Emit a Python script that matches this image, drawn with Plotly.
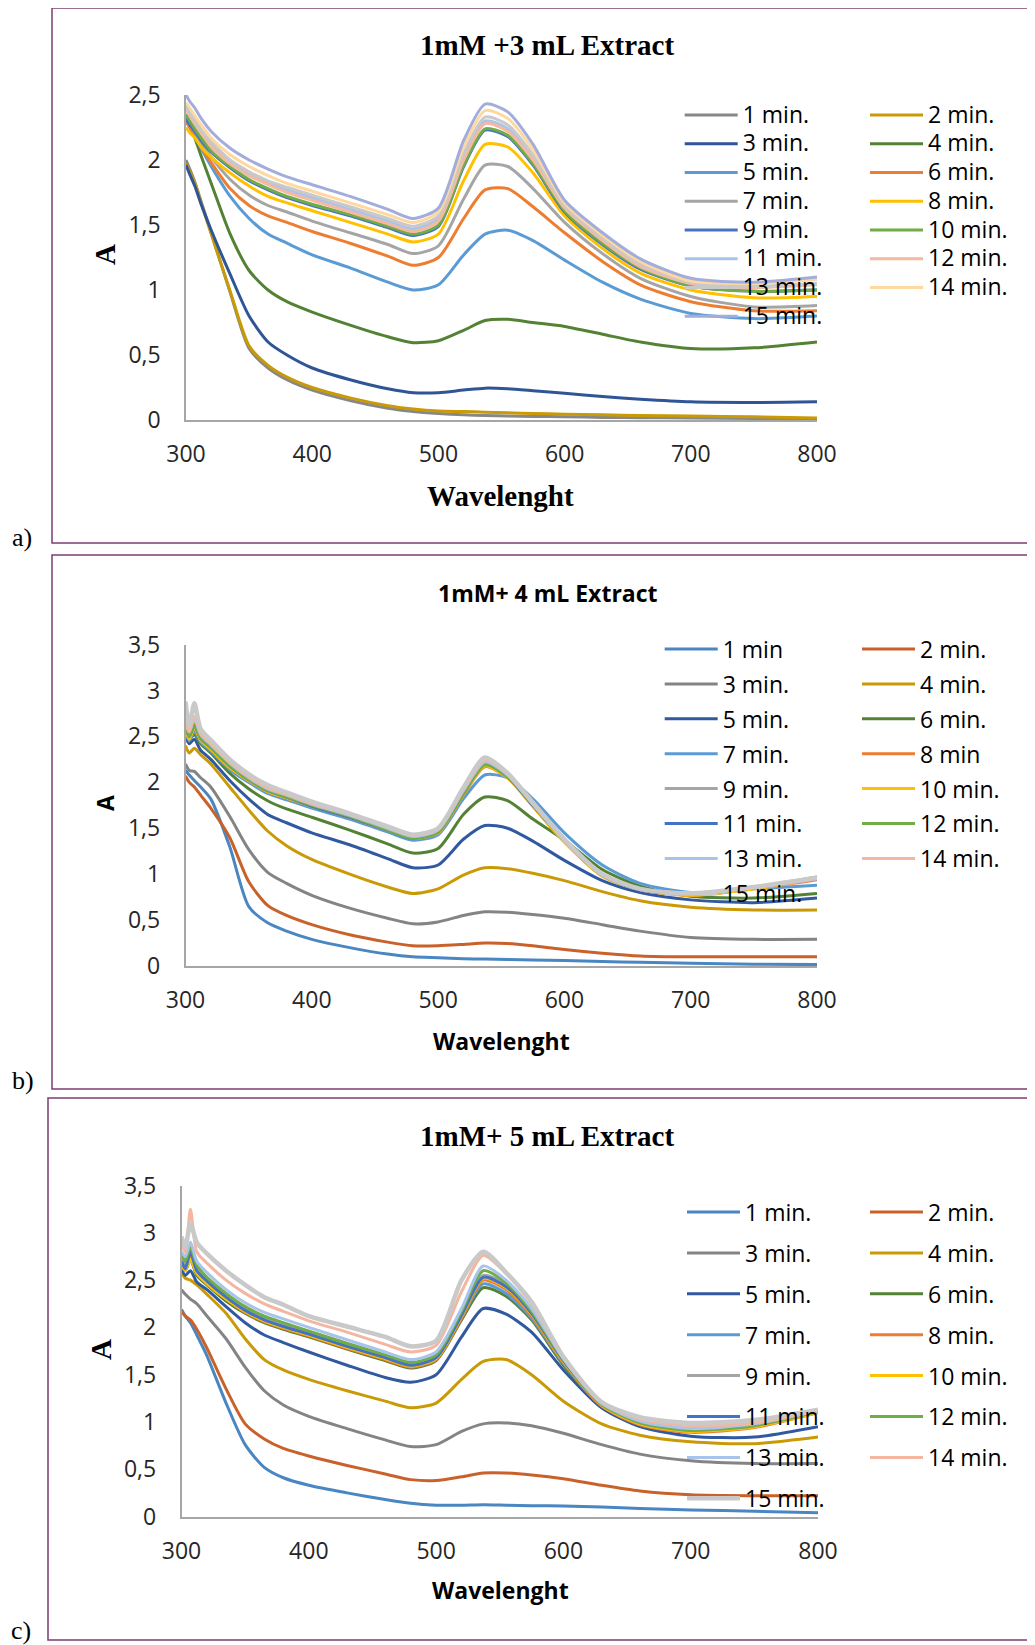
import plotly.graph_objects as go

# ---------------- data ----------------
W = [300, 303, 307, 312, 320, 335, 350, 365, 380, 400, 430, 460, 480, 500,
     520, 537, 555, 575, 600, 630, 660, 700, 750, 800]

# panel a : 1mM + 3 mL extract
a01 = [2.0, 1.93, 1.83, 1.68, 1.44, 0.98, 0.55, 0.4, 0.31, 0.23, 0.15, 0.09, 0.065, 0.05, 0.04, 0.035, 0.03, 0.027, 0.025, 0.02, 0.018, 0.015, 0.012, 0.01]
a02 = [1.97, 1.91, 1.82, 1.67, 1.43, 0.99, 0.57, 0.42, 0.33, 0.25, 0.17, 0.11, 0.085, 0.07, 0.065, 0.06, 0.055, 0.05, 0.045, 0.04, 0.035, 0.03, 0.025, 0.015]
a03 = [1.96, 1.89, 1.8, 1.66, 1.46, 1.12, 0.8, 0.6, 0.5, 0.4, 0.31, 0.24, 0.21, 0.21, 0.23, 0.245, 0.24, 0.225, 0.205, 0.18, 0.16, 0.14, 0.135, 0.14]
a04 = [2.35, 2.27, 2.17, 2.03, 1.82, 1.43, 1.15, 1.0, 0.91, 0.83, 0.73, 0.64, 0.595, 0.61, 0.69, 0.765, 0.775, 0.75, 0.72, 0.66, 0.6, 0.55, 0.555, 0.6]
a05 = [2.3, 2.25, 2.18, 2.09, 1.95, 1.72, 1.55, 1.43, 1.36, 1.27, 1.17, 1.06, 1.0, 1.04, 1.27, 1.43, 1.46, 1.38, 1.23, 1.06, 0.93, 0.82, 0.78, 0.8]
a06 = [2.3, 2.25, 2.19, 2.1, 1.98, 1.78, 1.65, 1.57, 1.52, 1.45, 1.36, 1.26, 1.19, 1.25, 1.55, 1.77, 1.78, 1.64, 1.44, 1.22, 1.04, 0.91, 0.84, 0.84]
a07 = [2.33, 2.28, 2.22, 2.13, 2.02, 1.85, 1.73, 1.65, 1.6, 1.53, 1.44, 1.35, 1.28, 1.34, 1.7, 1.96, 1.95, 1.78, 1.52, 1.28, 1.09, 0.95, 0.87, 0.88]
a08 = [2.25, 2.21, 2.17, 2.1, 2.02, 1.9, 1.8, 1.72, 1.67, 1.61, 1.52, 1.43, 1.37, 1.43, 1.84, 2.12, 2.1, 1.9, 1.57, 1.32, 1.13, 1.0, 0.94, 0.95]
a09 = [2.32, 2.27, 2.22, 2.15, 2.06, 1.94, 1.84, 1.77, 1.71, 1.65, 1.57, 1.48, 1.42, 1.49, 1.95, 2.23, 2.18, 1.96, 1.6, 1.35, 1.16, 1.03, 0.99, 1.0]
a10 = [2.35, 2.3, 2.24, 2.17, 2.07, 1.95, 1.85, 1.78, 1.72, 1.66, 1.58, 1.49, 1.43, 1.5, 1.96, 2.24, 2.19, 1.97, 1.61, 1.36, 1.17, 1.03, 0.99, 1.0]
a11 = [2.42, 2.37, 2.31, 2.23, 2.12, 1.99, 1.9, 1.83, 1.77, 1.71, 1.62, 1.53, 1.47, 1.55, 2.02, 2.3, 2.24, 2.01, 1.64, 1.39, 1.19, 1.05, 1.02, 1.05]
a12 = [2.38, 2.34, 2.28, 2.21, 2.1, 1.97, 1.88, 1.81, 1.75, 1.69, 1.6, 1.51, 1.45, 1.53, 2.0, 2.28, 2.22, 2.0, 1.63, 1.38, 1.18, 1.05, 1.02, 1.04]
a13 = [2.4, 2.36, 2.3, 2.23, 2.14, 2.0, 1.91, 1.84, 1.79, 1.73, 1.64, 1.55, 1.49, 1.57, 2.05, 2.33, 2.27, 2.04, 1.65, 1.4, 1.2, 1.06, 1.03, 1.05]
a14 = [2.44, 2.4, 2.34, 2.27, 2.17, 2.04, 1.95, 1.88, 1.82, 1.76, 1.67, 1.58, 1.52, 1.6, 2.1, 2.38, 2.32, 2.08, 1.67, 1.42, 1.22, 1.07, 1.05, 1.08]
a15 = [2.5, 2.45, 2.4, 2.32, 2.22, 2.09, 2.0, 1.93, 1.87, 1.81, 1.72, 1.62, 1.55, 1.63, 2.15, 2.43, 2.37, 2.12, 1.69, 1.44, 1.24, 1.09, 1.06, 1.1]

# panel b : 1mM + 4 mL extract
b01 = [2.13, 2.08, 2.02, 1.95, 1.82, 1.3, 0.65, 0.47, 0.38, 0.29, 0.2, 0.13, 0.1, 0.09, 0.08, 0.075, 0.07, 0.065, 0.06, 0.05, 0.04, 0.03, 0.02, 0.015]
b02 = [2.07, 2.0, 1.95, 1.86, 1.72, 1.4, 0.92, 0.66, 0.55, 0.45, 0.34, 0.26, 0.22, 0.22, 0.235, 0.25, 0.245, 0.22, 0.18, 0.14, 0.11, 0.1, 0.1, 0.1]
b03 = [2.2, 2.13, 2.12, 2.05, 1.95, 1.63, 1.27, 1.02, 0.9, 0.77, 0.63, 0.52, 0.46, 0.48, 0.55, 0.59, 0.585, 0.56, 0.52, 0.45, 0.38, 0.31, 0.29, 0.29]
b04 = [2.4, 2.32, 2.37, 2.3, 2.2, 1.95, 1.7, 1.47, 1.31, 1.16, 1.0, 0.86, 0.79, 0.84, 0.99, 1.07, 1.06, 1.01, 0.93, 0.81, 0.71, 0.64, 0.61, 0.61]
b05 = [2.5, 2.42, 2.47, 2.35, 2.25, 2.02, 1.82, 1.65, 1.56, 1.45, 1.32, 1.17, 1.07, 1.1, 1.38, 1.53, 1.5, 1.36, 1.15, 0.93, 0.8, 0.72, 0.69, 0.74]
b06 = [2.55, 2.47, 2.52, 2.42, 2.32, 2.1, 1.93, 1.8, 1.71, 1.62, 1.48, 1.33, 1.23, 1.28, 1.65, 1.84, 1.8, 1.6, 1.37, 1.05, 0.87, 0.76, 0.74, 0.79]
b07 = [2.55, 2.45, 2.56, 2.44, 2.34, 2.14, 2.0, 1.88, 1.81, 1.72, 1.6, 1.46, 1.37, 1.43, 1.82, 2.08, 2.05, 1.82, 1.45, 1.1, 0.9, 0.8, 0.84, 0.88]
b08 = [2.58, 2.47, 2.6, 2.46, 2.36, 2.16, 2.02, 1.9, 1.83, 1.74, 1.62, 1.48, 1.39, 1.45, 1.86, 2.17, 2.05, 1.74, 1.35, 0.98, 0.83, 0.77, 0.84, 0.94]
b09 = [2.6, 2.5, 2.64, 2.48, 2.38, 2.18, 2.03, 1.91, 1.84, 1.75, 1.63, 1.49, 1.4, 1.47, 1.9, 2.22, 2.07, 1.75, 1.36, 0.98, 0.83, 0.78, 0.85, 0.95]
b10 = [2.57, 2.47, 2.6, 2.46, 2.36, 2.16, 2.02, 1.9, 1.83, 1.74, 1.62, 1.48, 1.39, 1.45, 1.87, 2.18, 2.05, 1.74, 1.35, 0.98, 0.83, 0.77, 0.84, 0.95]
b11 = [2.6, 2.5, 2.62, 2.48, 2.38, 2.18, 2.03, 1.91, 1.84, 1.74, 1.62, 1.48, 1.39, 1.46, 1.88, 2.2, 2.06, 1.75, 1.37, 0.99, 0.83, 0.78, 0.85, 0.95]
b12 = [2.6, 2.5, 2.62, 2.48, 2.38, 2.18, 2.03, 1.91, 1.84, 1.75, 1.63, 1.48, 1.39, 1.46, 1.88, 2.19, 2.06, 1.76, 1.37, 0.99, 0.84, 0.79, 0.86, 0.97]
b13 = [2.65, 2.55, 2.7, 2.52, 2.41, 2.21, 2.05, 1.93, 1.86, 1.76, 1.64, 1.5, 1.41, 1.48, 1.91, 2.22, 2.08, 1.76, 1.37, 0.99, 0.84, 0.79, 0.86, 0.96]
b14 = [2.65, 2.55, 2.72, 2.53, 2.42, 2.22, 2.06, 1.94, 1.87, 1.77, 1.65, 1.51, 1.42, 1.49, 1.92, 2.24, 2.09, 1.77, 1.37, 0.99, 0.84, 0.79, 0.85, 0.95]
b15 = [2.88, 2.62, 2.86, 2.58, 2.46, 2.25, 2.09, 1.97, 1.89, 1.79, 1.66, 1.52, 1.43, 1.5, 1.94, 2.27, 2.1, 1.78, 1.38, 1.0, 0.84, 0.79, 0.86, 0.96]

# panel c : 1mM + 5 mL extract
c01 = [2.19, 2.12, 2.05, 1.92, 1.7, 1.2, 0.76, 0.52, 0.41, 0.33, 0.25, 0.18, 0.14, 0.12, 0.12, 0.125, 0.12, 0.115, 0.11, 0.1, 0.085, 0.07, 0.055, 0.04]
c02 = [2.17, 2.12, 2.08, 1.98, 1.78, 1.35, 0.98, 0.82, 0.72, 0.64, 0.54, 0.45, 0.39, 0.38, 0.42, 0.46, 0.46, 0.44, 0.4, 0.33, 0.27, 0.23, 0.22, 0.22]
c03 = [2.4, 2.35, 2.3, 2.25, 2.12, 1.88, 1.58, 1.33, 1.18, 1.06, 0.93, 0.81, 0.74, 0.76, 0.9, 0.98, 0.99, 0.96, 0.88, 0.76, 0.66, 0.59, 0.56, 0.56]
c04 = [2.58, 2.52, 2.5, 2.45, 2.35, 2.15, 1.88, 1.66, 1.55, 1.45, 1.33, 1.22, 1.15, 1.2, 1.45, 1.64, 1.66, 1.5, 1.22, 0.98, 0.86, 0.79, 0.77, 0.84]
c05 = [2.62, 2.55, 2.6, 2.48, 2.4, 2.22, 2.05, 1.92, 1.84, 1.74, 1.6, 1.47, 1.42, 1.5, 1.9, 2.2, 2.14, 1.95, 1.55, 1.15, 0.95, 0.85, 0.84, 0.95]
c06 = [2.65, 2.6, 2.72, 2.55, 2.45, 2.28, 2.15, 2.05, 1.98, 1.9, 1.77, 1.65, 1.57, 1.65, 2.08, 2.42, 2.33, 2.08, 1.6, 1.17, 0.98, 0.9, 0.95, 1.1]
c07 = [2.72, 2.65, 2.78, 2.6, 2.5, 2.32, 2.18, 2.08, 2.01, 1.93, 1.8, 1.67, 1.59, 1.67, 2.1, 2.46, 2.36, 2.1, 1.62, 1.17, 0.99, 0.91, 0.96, 1.1]
c08 = [2.68, 2.62, 2.75, 2.58, 2.47, 2.3, 2.16, 2.06, 1.99, 1.91, 1.78, 1.66, 1.58, 1.66, 2.1, 2.5, 2.4, 2.12, 1.63, 1.17, 0.97, 0.89, 0.94, 1.1]
c09 = [2.75, 2.68, 2.85, 2.65, 2.52, 2.35, 2.21, 2.11, 2.04, 1.96, 1.83, 1.7, 1.62, 1.7, 2.15, 2.55, 2.45, 2.16, 1.66, 1.19, 1.0, 0.93, 0.97, 1.11]
c10 = [2.66, 2.6, 2.72, 2.57, 2.46, 2.3, 2.17, 2.07, 2.0, 1.92, 1.79, 1.67, 1.59, 1.67, 2.12, 2.52, 2.42, 2.14, 1.64, 1.18, 0.98, 0.9, 0.95, 1.1]
c11 = [2.7, 2.62, 2.8, 2.6, 2.49, 2.32, 2.18, 2.08, 2.01, 1.93, 1.8, 1.68, 1.6, 1.68, 2.13, 2.53, 2.43, 2.15, 1.65, 1.19, 1.0, 0.92, 0.97, 1.12]
c12 = [2.78, 2.7, 2.85, 2.66, 2.53, 2.36, 2.22, 2.12, 2.05, 1.96, 1.83, 1.71, 1.63, 1.71, 2.17, 2.6, 2.47, 2.17, 1.66, 1.19, 0.99, 0.91, 0.96, 1.11]
c13 = [2.8, 2.75, 2.9, 2.7, 2.58, 2.4, 2.26, 2.16, 2.09, 2.0, 1.87, 1.74, 1.66, 1.74, 2.2, 2.65, 2.5, 2.2, 1.67, 1.2, 1.01, 0.93, 0.98, 1.12]
c14 = [2.88, 2.8, 3.25, 2.8, 2.68, 2.5, 2.36, 2.25, 2.17, 2.07, 1.95, 1.82, 1.74, 1.81, 2.38, 2.76, 2.57, 2.25, 1.68, 1.21, 1.03, 0.96, 0.99, 1.12]
c15 = [2.96, 2.85, 3.1, 2.9, 2.78, 2.6, 2.45, 2.32, 2.24, 2.12, 2.01, 1.9, 1.8, 1.86, 2.5, 2.8, 2.58, 2.27, 1.69, 1.21, 1.05, 0.99, 1.02, 1.13]

LABELS_A = ["1 min.", "2 min.", "3 min.", "4 min.", "5 min.", "6 min.", "7 min.", "8 min.",
            "9 min.", "10 min.", "11 min.", "12 min.", "13 min.", "14 min.", "15 min."]
LABELS_B = ["1 min", "2 min.", "3 min.", "4 min.", "5 min.", "6 min.", "7 min.", "8 min",
            "9 min.", "10 min.", "11 min.", "12 min.", "13 min.", "14 min.", "15 min."]
LABELS_C = ["1 min.", "2 min.", "3 min.", "4 min.", "5 min.", "6 min.", "7 min.", "8 min.",
            "9 min.", "10 min.", "11 min.", "12 min.", "13 min.", "14 min.", "15 min."]

COLORS_A = ["#878787", "#C99A06", "#2F5597", "#548235", "#5B9BD5", "#ED7D31", "#A5A5A5", "#FFC000",
            "#4472C4", "#70AD47", "#A9C4EB", "#F5B8A0", "#C9C9C9", "#FFD8A0", "#A2ADDC"]
COLORS_BC = ["#4A86C1", "#C8622A", "#848484", "#C99A06", "#3159A0", "#548235", "#5B9BD5", "#ED7D31",
             "#A5A5A5", "#FFC000", "#4472C4", "#70AD47", "#A9C4EB", "#F4B6A0", "#C9C9C9"]

# ---------------- layout helpers ----------------
FIG_W, FIG_H = 1035, 1645
PAGE_OFFSET = 8          # the html body margin shifts the figure by 8 px
SERIF = "Liberation Serif"
SANS = "Open Sans"
ITEM_W = 53


def px(x):
    return (x - PAGE_OFFSET) / FIG_W


def py(y):
    return 1 - (y - PAGE_OFFSET) / FIG_H


fig = go.Figure()

panels = [
    dict(key="a", series=[a01, a02, a03, a04, a05, a06, a07, a08, a09, a10, a11, a12, a13, a14, a15],
         labels=LABELS_A, colors=COLORS_A, xa="x", ya="y", legs=("legend", "legend2")),
    dict(key="b", series=[b01, b02, b03, b04, b05, b06, b07, b08, b09, b10, b11, b12, b13, b14, b15],
         labels=LABELS_B, colors=COLORS_BC, xa="x2", ya="y2", legs=("legend3", "legend4")),
    dict(key="c", series=[c01, c02, c03, c04, c05, c06, c07, c08, c09, c10, c11, c12, c13, c14, c15],
         labels=LABELS_C, colors=COLORS_BC, xa="x3", ya="y3", legs=("legend5", "legend6")),
]

for p in panels:
    for i, (vals, lab, col) in enumerate(zip(p["series"], p["labels"], p["colors"])):
        name = lab
        if p["key"] == "a":
            name = '<span style="font-size:23px">' + lab + "</span>"
        width = 3
        if p["key"] in ("b", "c") and i == 14:
            width = 4.5
        fig.add_trace(go.Scatter(
            x=W, y=vals, mode="lines", name=name,
            line=dict(color=col, width=width, shape="spline", smoothing=0.7),
            xaxis=p["xa"], yaxis=p["ya"],
            legend=p["legs"][0] if i % 2 == 0 else p["legs"][1],
            legendgroup=p["key"] + str(i + 1),
            hoverinfo="skip",
        ))

tickfont = dict(family=SANS, size=23, color="#262626")


def xaxis_cfg(x0, x1, anchor):
    return dict(domain=[px(x0), px(x1)], anchor=anchor, range=[300, 800],
                tickvals=[300, 400, 500, 600, 700, 800], showline=True, linecolor="#A6A6A6",
                linewidth=1.5, showgrid=False, zeroline=False, ticks="", tickfont=tickfont,
                ticklabelstandoff=13, fixedrange=True)


def yaxis_cfg(y_bottom, y_top, ymax, anchor):
    return dict(domain=[py(y_bottom), py(y_top)], anchor=anchor, range=[0, ymax], dtick=0.5, tick0=0,
                showline=True, linecolor="#A6A6A6", linewidth=1.5, showgrid=False, zeroline=False,
                ticks="", tickfont=tickfont, ticklabelstandoff=19, fixedrange=True)


def legend_cfg(x_text, y_first, fs, gap):
    return dict(x=px(x_text - ITEM_W - 10), y=py(y_first - 5 - (1.3 * fs + 3) / 2),
                xanchor="left", yanchor="top", itemwidth=ITEM_W,
                orientation="v", bgcolor="rgba(0,0,0,0)", borderwidth=0,
                font=dict(family=SANS, size=fs, color="#000000"),
                tracegroupgap=gap, traceorder="grouped")


frame_color = "#7D3C73"
shapes = [
    dict(type="rect", xref="paper", yref="paper", x0=px(52), x1=px(1050), y0=py(8), y1=py(543),
         line=dict(color=frame_color, width=1.5)),
    dict(type="rect", xref="paper", yref="paper", x0=px(52), x1=px(1050), y0=py(555), y1=py(1089),
         line=dict(color=frame_color, width=1.5)),
    dict(type="rect", xref="paper", yref="paper", x0=px(48), x1=px(1050), y0=py(1098), y1=py(1640),
         line=dict(color=frame_color, width=1.5)),
]


def ann(text, x, y, family, size, bold=True, angle=0, color="#000000"):
    t = "<b>" + text + "</b>" if bold else text
    return dict(text=t, x=px(x), y=py(y), xref="paper", yref="paper", xanchor="center", yanchor="middle",
                showarrow=False, textangle=angle, font=dict(family=family, size=size, color=color))


annotations = [
    ann("1mM +3 mL Extract", 547, 45, SERIF, 29),
    ann("1mM+ 4 mL Extract", 548, 593, SANS, 23),
    ann("1mM+ 5 mL Extract", 547, 1136, SERIF, 29),
    ann("Wavelenght", 500, 496, SERIF, 29),
    ann("Wavelenght", 501, 1041, SANS, 23),
    ann("Wavelenght", 500, 1590, SANS, 23),
    ann("A", 105, 255, SERIF, 29, angle=-90),
    ann("A", 105, 803, SANS, 23, angle=-90),
    ann("A", 101, 1350, SERIF, 29, angle=-90),
    ann("a)", 22, 537, SERIF, 26, bold=False),
    ann("b)", 23, 1080, SERIF, 26, bold=False),
    ann("c)", 21, 1630, SERIF, 26, bold=False),
]

fig.update_layout(
    width=FIG_W, height=FIG_H, autosize=False,
    margin=dict(l=0, r=0, t=0, b=0, pad=0, autoexpand=False),
    paper_bgcolor="white", plot_bgcolor="white",
    separators=", ",
    showlegend=True,
    xaxis=xaxis_cfg(186, 817, "y"),
    yaxis=yaxis_cfg(420, 95, 2.5, "x"),
    xaxis2=xaxis_cfg(185.5, 817, "y2"),
    yaxis2=yaxis_cfg(966, 644.6, 3.5, "x2"),
    xaxis3=xaxis_cfg(181.5, 818, "y3"),
    yaxis3=yaxis_cfg(1516.5, 1185.6, 3.5, "x3"),
    legend=legend_cfg(742.7, 115, 19.8, 0),
    legend2=legend_cfg(928, 115, 19.8, 0),
    legend3=legend_cfg(722.7, 649, 23, 2),
    legend4=legend_cfg(920, 649, 23, 2),
    legend5=legend_cfg(745, 1212, 23, 8),
    legend6=legend_cfg(928, 1212, 23, 8),
    shapes=shapes,
    annotations=annotations,
)

fig.write_html("out.html")
